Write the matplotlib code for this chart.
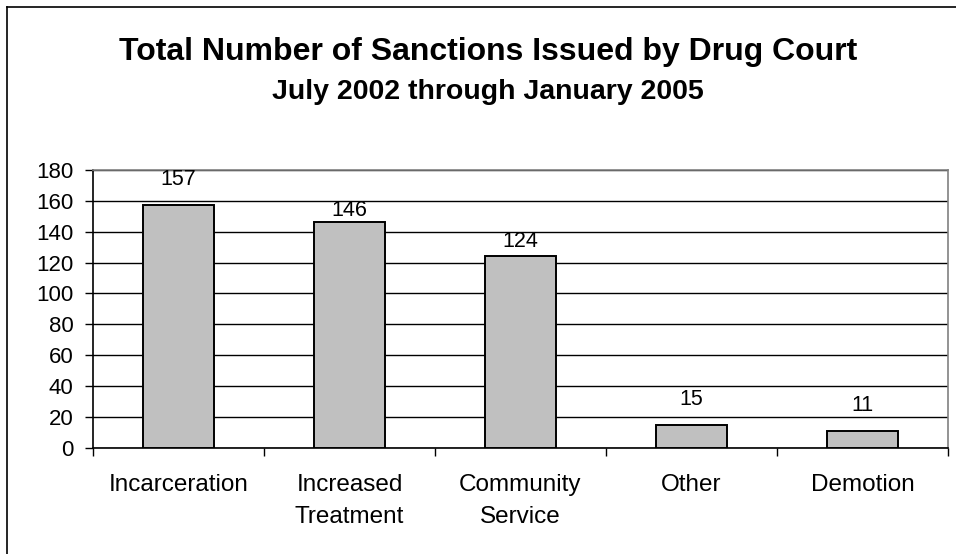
import matplotlib
matplotlib.use("Agg")
import matplotlib.pyplot as plt
from matplotlib.lines import Line2D
import numpy as np

plt.rcParams['font.family'] = ['Liberation Sans', 'DejaVu Sans']

categories = ["Incarceration", "Increased\nTreatment", "Community\nService", "Other", "Demotion"]
values = [157, 146, 124, 15, 11]
y_ticks = [0, 20, 40, 60, 80, 100, 120, 140, 160, 180]
title_line1 = "Total Number of Sanctions Issued by Drug Court"
title_line2 = "July 2002 through January 2005"

# gap (pixels) between each bar top and the baseline of its value label
label_gap_px = [20, 6, 9, 20, 20]

W, H = 956, 554
DPI = 100
fig = plt.figure(figsize=(W / DPI, H / DPI), dpi=DPI)
fig.patch.set_facecolor("white")

# chart frame (left and top edges)
fig.add_artist(Line2D([7 / W, 7 / W], [0, 1 - 7 / H], color="black", lw=1.2, transform=fig.transFigure))
fig.add_artist(Line2D([7 / W, 1], [1 - 7 / H, 1 - 7 / H], color="black", lw=1.2, transform=fig.transFigure))

ax = fig.add_axes([93 / W, 1 - 447.7 / H, (948 - 93) / W, (447.7 - 170) / H])

x = np.arange(len(categories))
ax.bar(x, values, width=0.41, color="#C0C0C0", edgecolor="black", linewidth=1.4, zorder=3)

ax.set_xlim(-0.5, len(categories) - 0.5)
ax.set_ylim(0, 180)
ax.set_yticks(y_ticks)
ax.set_yticklabels([str(v) for v in y_ticks], fontsize=16)
ax.yaxis.grid(True, color="black", lw=1.0, zorder=0)
ax.set_axisbelow(True)

ax.set_xticks(x)
ax.set_xticklabels(categories, fontsize=17.5, linespacing=1.6)
ax.set_xticks(np.arange(-0.5, len(categories)), minor=True)
ax.tick_params(axis="x", which="major", length=0, pad=19)
ax.tick_params(axis="x", which="minor", length=6, width=1.0, direction="out")
ax.tick_params(axis="y", length=6, width=1.0, direction="out", pad=8)

for side in ("top", "right"):
    ax.spines[side].set_color("#808080")
    ax.spines[side].set_linewidth(1.2)
for side in ("left", "bottom"):
    ax.spines[side].set_color("black")
    ax.spines[side].set_linewidth(1.2)

for xi, v, gap in zip(x, values, label_gap_px):
    ax.annotate(str(v), (xi, v), xytext=(0, gap * 72 / DPI), textcoords="offset points",
                ha="center", va="baseline", fontsize=15.5)

fig.text(488 / W, 1 - 60 / H, title_line1, ha="center", va="baseline",
         fontsize=23, fontweight="bold")
fig.text(488 / W, 1 - 99 / H, title_line2, ha="center", va="baseline",
         fontsize=20.5, fontweight="bold")

fig.savefig("out.png", dpi=DPI)
